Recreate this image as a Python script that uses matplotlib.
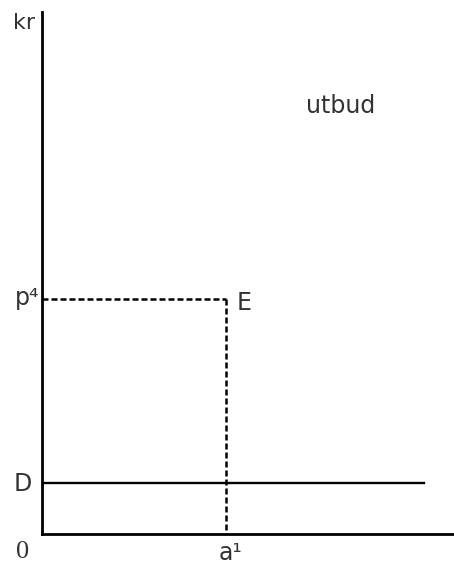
import matplotlib.pyplot as plt

# economic diagram values (abstract units, axes run 0..100)
a1 = 44.7          # quantity at E
p4 = 45.1          # price at E
d_level = 9.7      # horizontal D line
d_end = 92.7       # where D line stops

labels_y = ["kr", "p\u2074", "D"]
labels_y_pos = [97.9, 45.3, 9.6]

fig = plt.figure(figsize=(4.54, 5.65), dpi=100)
ax = fig.add_axes([41.5 / 454, 31 / 565, 1 - 41.5 / 454, 522 / 565])
ax.set_xlim(0, 100)
ax.set_ylim(0, 100)
for s in ["top", "right"]:
    ax.spines[s].set_visible(False)
for s in ["left", "bottom"]:
    ax.spines[s].set_linewidth(2.0)
    ax.spines[s].set_color("black")
ax.set_xticks([])
ax.set_yticks([])

dash = (0, (2.4, 1.2))
ax.plot([0, a1], [p4, p4], color="black", lw=1.8, linestyle=dash, clip_on=False)
ax.plot([a1, a1], [p4, 0], color="black", lw=1.8, linestyle=dash, clip_on=False)
ax.plot([0, d_end], [d_level, d_level], color="black", lw=1.7)

fs = 17
tc = "#333333"
ax.text(-4.3, labels_y_pos[0], labels_y[0], fontsize=fs - 1, color=tc, ha="center", va="center")
ax.text(-0.5, labels_y_pos[1], labels_y[1], fontsize=fs, color=tc, ha="right", va="center")
ax.text(-4.5, labels_y_pos[2], labels_y[2], fontsize=fs, color=tc, ha="center", va="center")
ax.text(47.4, p4 - 0.9, "E", fontsize=fs, color=tc, ha="left", va="center")
ax.text(-4.7, -3.4, "0", fontsize=fs + 2, color=tc, ha="center", va="center",
        family="Liberation Serif")
ax.text(45.7, -3.6, "a\u00b9", fontsize=fs, color=tc, ha="center", va="center")
ax.text(72.6, 82, "utbud", fontsize=fs, color=tc, ha="center", va="center")

fig.savefig("out.png", dpi=100)
